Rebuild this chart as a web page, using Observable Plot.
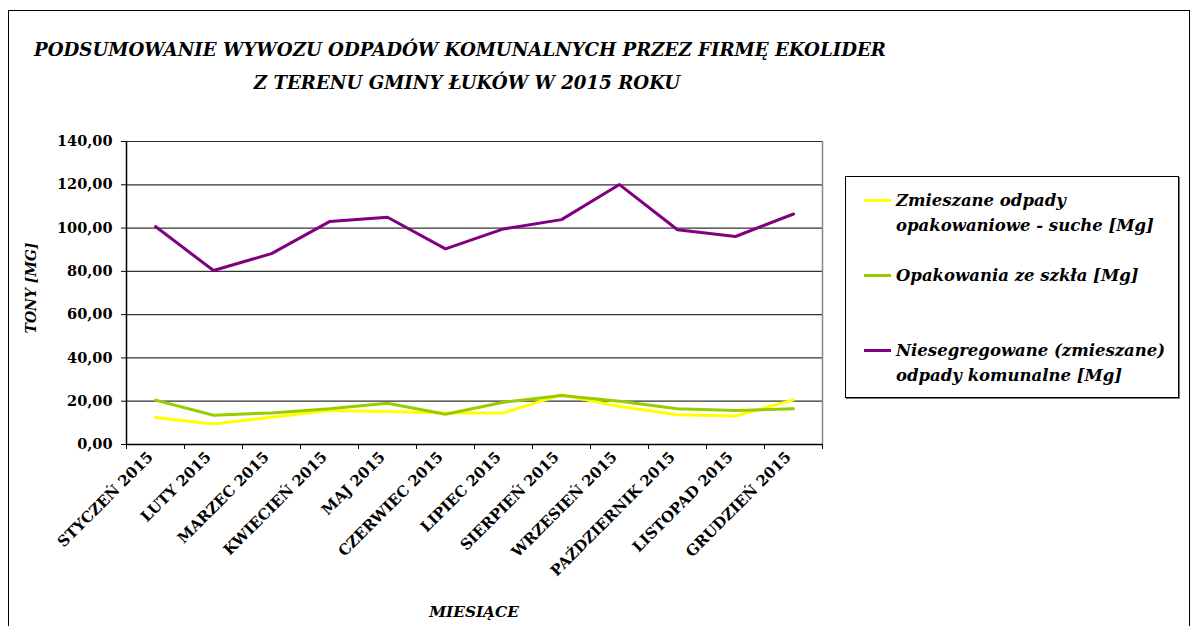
<!DOCTYPE html>
<html>
<head>
<meta charset="utf-8">
<script src="https://cdn.jsdelivr.net/npm/d3@7"></script>
<script src="https://cdn.jsdelivr.net/npm/@observablehq/plot@0.6"></script>
<style>
  html, body { margin: 0; padding: 0; background: #fff; }
  #wrap { position: relative; width: 1195px; height: 626px; overflow: hidden; font-family: "DejaVu Serif", serif; color: #000; }
  #frame { position: absolute; left: 8px; top: 10px; width: 1182px; height: 640px; border: 1px solid #000; box-sizing: border-box; }
  .title { position: absolute; font-weight: bold; font-style: italic; font-size: 18.2px; line-height: 24px; white-space: nowrap; transform: translateX(-50%); }
  #chart { position: absolute; left: 0; top: 0; }
  #legend { position: absolute; left: 845px; top: 176px; width: 334px; height: 222px; border: 1px solid #000; box-sizing: border-box; box-shadow: 1px 1px 0 #777; }
  .sw { position: absolute; left: 18px; width: 27px; height: 3px; }
  .lt { position: absolute; left: 50px; white-space: nowrap; font-weight: bold; font-style: italic; font-size: 16.5px; line-height: 25px; }
  #ylab { position: absolute; left: 31px; top: 288px; transform: translate(-50%, -50%) rotate(-90deg); font-weight: bold; font-style: italic; font-size: 14px; white-space: nowrap; }
  #xlab { position: absolute; left: 474px; top: 612px; transform: translate(-50%, -50%); font-weight: bold; font-style: italic; font-size: 15.3px; white-space: nowrap; }
</style>
</head>
<body>
<div id="wrap">
  <div id="frame"></div>
  <div id="chart"></div>
  <div class="title" id="t1" style="left:460px; top:38px;"></div>
  <div class="title" id="t2" style="left:467px; top:71px;"></div>
  <div id="ylab"></div>
  <div id="xlab"></div>
  <div id="legend"></div>
</div>
<script>
const titleLines = [
  "PODSUMOWANIE WYWOZU ODPADÓW KOMUNALNYCH PRZEZ FIRMĘ EKOLIDER",
  "Z TERENU GMINY ŁUKÓW W 2015 ROKU"
];
const yAxisTitle = "TONY [MG]";
const xAxisTitle = "MIESIĄCE";
const months = ["STYCZEŃ 2015","LUTY 2015","MARZEC 2015","KWIECIEŃ 2015","MAJ 2015","CZERWIEC 2015","LIPIEC 2015","SIERPIEŃ 2015","WRZESIEŃ 2015","PAŹDZIERNIK 2015","LISTOPAD 2015","GRUDZIEŃ 2015"];
const seriesNames = ["Zmieszane odpady\nopakowaniowe - suche [Mg]", "Opakowania ze szkła [Mg]", "Niesegregowane (zmieszane)\nodpady komunalne [Mg]"];
const seriesColors = ["#FFFF00", "#99CC00", "#800080"];
const suche = [12.5, 9.5, 12.6, 15.7, 15.2, 14.6, 14.6, 23.0, 17.6, 13.7, 13.2, 20.6];
const szklo = [20.5, 13.5, 14.6, 16.5, 19.1, 14.0, 19.5, 22.6, 20.0, 16.5, 15.7, 16.5];
const niesegregowane = [100.7, 80.4, 88.2, 103.0, 105.0, 90.4, 99.6, 103.9, 120.1, 99.2, 96.1, 106.5];
const yTicks = [0, 20, 40, 60, 80, 100, 120, 140];

const seriesValues = [suche, szklo, niesegregowane];

document.getElementById("t1").textContent = titleLines[0];
document.getElementById("t2").textContent = titleLines[1];
document.getElementById("ylab").textContent = yAxisTitle;
document.getElementById("xlab").textContent = xAxisTitle;

const fmt = d => d.toFixed(2).replace(".", ",");
const idx = d3.range(months.length);
const boundaries = d3.range(months.length + 1).map(i => i - 0.5);

const lineMarks = seriesValues.map((vals, s) =>
  Plot.line(idx, {x: i => i, y: i => vals[i], stroke: seriesColors[s], strokeWidth: 3, curve: "linear"})
);

const chart = Plot.plot({
  width: 1195,
  height: 626,
  marginLeft: 126,
  marginRight: 373,
  marginTop: 141,
  marginBottom: 182,
  style: {fontFamily: "'DejaVu Serif', serif", background: "transparent", color: "#000"},
  x: {type: "linear", domain: [-0.5, months.length - 0.5]},
  y: {type: "linear", domain: [0, 140]},
  marks: [
    Plot.ruleY(yTicks.filter(d => d > 0), {stroke: "#333", strokeWidth: 1.2}),
    Plot.ruleX([months.length - 0.5], {stroke: "#888", strokeWidth: 1.5}),
    Plot.axisY({ticks: yTicks, tickFormat: fmt, tickSize: 5, tickPadding: 9, fontSize: 14.5, fontWeight: "bold", label: null, stroke: "#000"}),
    Plot.axisX({ticks: boundaries, tickSize: 5, tickFormat: () => "", label: null, stroke: "#000"}),
    Plot.axisX({ticks: idx, tickSize: 0, tickFormat: i => months[i], tickRotate: -45, tickPadding: 10, dx: -5, fontSize: 15, fontWeight: "bold", label: null}),
    Plot.ruleY([0], {stroke: "#000", strokeWidth: 1.5}),
    Plot.ruleX([-0.5], {stroke: "#000", strokeWidth: 1.5}),
    ...lineMarks
  ]
});
document.getElementById("chart").appendChild(chart);

// legend built from series arrays
const legend = document.getElementById("legend");
const entryTops = [11, 86, 161];
seriesNames.forEach((name, s) => {
  const sw = document.createElement("div");
  sw.className = "sw";
  sw.style.top = (entryTops[s] + 11) + "px";
  sw.style.background = seriesColors[s];
  legend.appendChild(sw);
  const t = document.createElement("div");
  t.className = "lt";
  t.style.top = entryTops[s] + "px";
  t.innerHTML = name.split("\n").map(l => l.replace(/&/g, "&amp;").replace(/</g, "&lt;")).join("<br>");
  legend.appendChild(t);
});
</script>
</body>
</html>
